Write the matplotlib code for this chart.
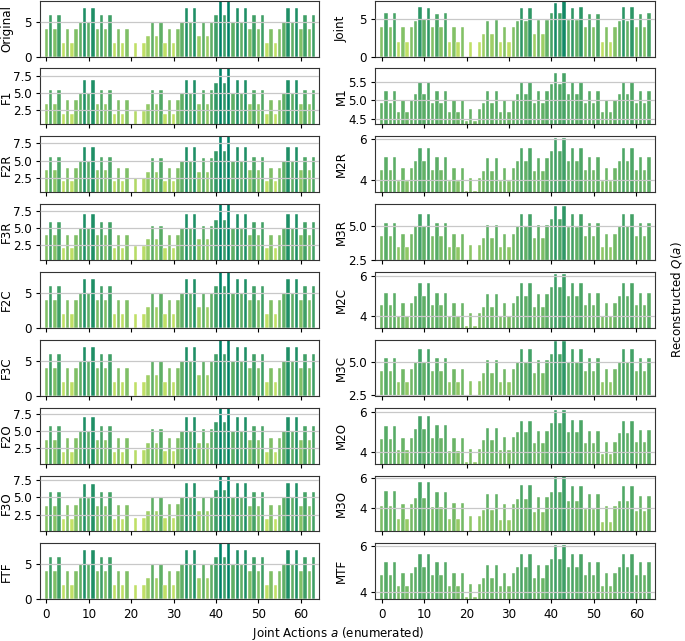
import matplotlib
matplotlib.use("Agg")
import matplotlib.pyplot as plt
import numpy as np
from matplotlib.colors import Normalize

# Reconstructed Q(a) for the 64 enumerated joint actions, one list per panel
original = [
    4, 6, 4, 6, 2, 4, 2, 4, 5, 7, 5, 7, 4, 6, 4, 6,
    2, 4, 2, 4, 0, 2, 0, 2, 3, 5, 3, 5, 2, 4, 2, 4,
    5, 7, 5, 7, 3, 5, 3, 5, 6, 8, 6, 8, 5, 7, 5, 7,
    4, 6, 4, 6, 2, 4, 2, 4, 5, 7, 5, 7, 4, 6, 4, 6,
]
f1 = [
    3.44, 5.45, 3.44, 5.45, 1.96, 4.0, 1.96, 4.0, 5.0, 7.05, 5.0, 7.05, 3.44, 5.45, 3.44, 5.45,
    1.96, 4.0, 1.96, 4.0, 0.37, 2.4, 0.37, 2.4, 3.44, 5.45, 3.44, 5.45, 1.96, 4.0, 1.96, 4.0,
    5.0, 7.05, 5.0, 7.05, 3.44, 5.45, 3.44, 5.45, 6.5, 8.69, 6.5, 8.69, 5.0, 7.05, 5.0, 7.05,
    3.44, 5.45, 3.44, 5.45, 1.96, 4.0, 1.96, 4.0, 5.0, 7.05, 5.0, 7.05, 3.44, 5.45, 3.44, 5.45,
]
f2r = [
    3.62, 5.58, 3.62, 5.58, 2.0, 4.0, 2.0, 4.0, 5.0, 7.0, 5.0, 7.0, 3.62, 5.58, 3.62, 5.58,
    2.0, 4.0, 2.0, 4.0, 0.41, 2.45, 0.41, 2.45, 3.37, 5.4, 3.37, 5.4, 2.0, 4.0, 2.0, 4.0,
    5.0, 7.0, 5.0, 7.0, 3.37, 5.4, 3.37, 5.4, 6.4, 8.52, 6.4, 8.52, 5.0, 7.0, 5.0, 7.0,
    3.62, 5.58, 3.62, 5.58, 2.0, 4.0, 2.0, 4.0, 5.0, 7.0, 5.0, 7.0, 3.62, 5.58, 3.62, 5.58,
]
f3r = [
    3.89, 5.9, 3.89, 5.9, 2.05, 4.0, 2.05, 4.0, 5.0, 7.05, 5.0, 7.05, 3.89, 5.9, 3.89, 5.9,
    2.05, 4.0, 2.05, 4.0, 0.22, 2.25, 0.22, 2.25, 3.3, 5.2, 3.3, 5.2, 2.05, 4.0, 2.05, 4.0,
    5.0, 7.05, 5.0, 7.05, 3.3, 5.2, 3.3, 5.2, 6.2, 8.49, 6.2, 8.49, 5.0, 7.05, 5.0, 7.05,
    3.89, 5.9, 3.89, 5.9, 2.05, 4.0, 2.05, 4.0, 5.0, 7.05, 5.0, 7.05, 3.89, 5.9, 3.89, 5.9,
]
f2c = [
    4, 6, 4, 6, 2, 4, 2, 4, 5, 7, 5, 7, 4, 6, 4, 6,
    2, 4, 2, 4, 0, 2, 0, 2, 3, 5, 3, 5, 2, 4, 2, 4,
    5, 7, 5, 7, 3, 5, 3, 5, 6, 8, 6, 8, 5, 7, 5, 7,
    4, 6, 4, 6, 2, 4, 2, 4, 5, 7, 5, 7, 4, 6, 4, 6,
]
f3c = [
    4, 6, 4, 6, 2, 4, 2, 4, 5, 7, 5, 7, 4, 6, 4, 6,
    2, 4, 2, 4, 0, 2, 0, 2, 3, 5, 3, 5, 2, 4, 2, 4,
    5, 7, 5, 7, 3, 5, 3, 5, 6, 8, 6, 8, 5, 7, 5, 7,
    4, 6, 4, 6, 2, 4, 2, 4, 5, 7, 5, 7, 4, 6, 4, 6,
]
f2o = [
    3.7, 5.72, 3.7, 5.72, 1.97, 3.94, 1.97, 3.94, 5.0, 7.0, 5.0, 7.0, 3.7, 5.72, 3.7, 5.72,
    2.0, 4.0, 2.0, 4.0, 0.29, 2.26, 0.29, 2.26, 3.27, 5.24, 3.27, 5.24, 2.05, 4.0, 2.05, 4.0,
    5.0, 7.0, 5.0, 7.0, 3.27, 5.24, 3.27, 5.24, 6.25, 8.37, 6.25, 8.37, 5.0, 7.0, 5.0, 7.0,
    3.7, 5.72, 3.7, 5.72, 2.0, 4.0, 2.0, 4.0, 5.0, 7.0, 5.0, 7.0, 3.7, 5.72, 3.7, 5.72,
]
f3o = [
    3.8, 5.84, 3.8, 5.84, 1.85, 3.85, 1.85, 3.85, 4.9, 6.9, 4.9, 6.9, 3.8, 5.84, 3.8, 5.84,
    1.95, 3.95, 1.95, 3.95, 0.1, 2.0, 0.1, 2.0, 3.0, 5.0, 3.0, 5.0, 2.0, 4.0, 2.0, 4.0,
    5.0, 7.0, 5.0, 7.0, 3.0, 5.0, 3.0, 5.0, 6.05, 8.14, 6.05, 8.14, 5.0, 7.0, 5.0, 7.0,
    3.8, 5.84, 3.8, 5.84, 1.95, 3.95, 1.95, 3.95, 5.0, 7.0, 5.0, 7.0, 3.8, 5.84, 3.8, 5.84,
]
ftf = [
    4, 6, 4, 6, 2, 4, 2, 4, 5, 7, 5, 7, 4, 6, 4, 6,
    2, 4, 2, 4, 0, 2, 0, 2, 3, 5, 3, 5, 2, 4, 2, 4,
    5, 7, 5, 7, 3, 5, 3, 5, 6, 8, 6, 8, 5, 7, 5, 7,
    4, 6, 4, 6, 2, 4, 2, 4, 5, 7, 5, 7, 4, 6, 4, 6,
]

joint = [
    3.9, 5.8, 3.9, 5.8, 2.0, 3.9, 2.0, 3.9, 4.8, 6.6, 5.0, 6.5, 3.9, 5.7, 3.9, 5.8,
    2.0, 3.9, 2.0, 3.9, 0.0, 2.0, 0.0, 2.0, 3.0, 4.8, 3.0, 4.9, 2.0, 3.9, 2.0, 3.9,
    4.8, 6.5, 4.8, 6.5, 3.0, 4.9, 3.0, 4.9, 5.8, 7.2, 5.8, 7.45, 4.9, 6.5, 4.9, 6.6,
    3.9, 5.7, 3.9, 5.7, 2.0, 3.9, 2.0, 3.9, 4.8, 6.6, 4.8, 6.6, 3.9, 5.7, 3.9, 5.8,
]
m1 = [
    4.92, 5.25, 4.92, 5.25, 4.68, 5.0, 4.68, 5.0, 5.17, 5.5, 5.17, 5.5, 4.92, 5.25, 4.92, 5.25,
    4.68, 5.0, 4.68, 5.0, 4.43, 4.75, 4.43, 4.75, 4.92, 5.25, 4.92, 5.25, 4.68, 5.0, 4.68, 5.0,
    5.17, 5.5, 5.17, 5.5, 4.92, 5.25, 4.92, 5.25, 5.43, 5.75, 5.43, 5.75, 5.17, 5.5, 5.17, 5.5,
    4.92, 5.25, 4.92, 5.25, 4.68, 5.0, 4.68, 5.0, 5.17, 5.5, 5.17, 5.5, 4.92, 5.25, 4.92, 5.25,
]
m2r = [
    4.48, 5.13, 4.48, 5.13, 3.95, 4.6, 3.95, 4.6, 4.93, 5.57, 4.93, 5.57, 4.48, 5.13, 4.48, 5.13,
    3.95, 4.6, 3.95, 4.6, 3.46, 4.11, 3.46, 4.11, 4.43, 5.07, 4.43, 5.07, 3.95, 4.6, 3.95, 4.6,
    4.93, 5.57, 4.93, 5.57, 4.41, 5.07, 4.41, 5.07, 5.39, 6.03, 5.39, 6.03, 4.93, 5.57, 4.93, 5.57,
    4.48, 5.13, 4.48, 5.13, 3.95, 4.6, 3.95, 4.6, 4.93, 5.57, 4.93, 5.57, 4.48, 5.13, 4.48, 5.13,
]
m3r = [
    4.25, 5.22, 4.25, 5.22, 3.47, 4.42, 3.47, 4.42, 4.98, 5.9, 4.98, 5.9, 4.25, 5.22, 4.25, 5.22,
    3.47, 4.42, 3.47, 4.42, 2.5, 3.57, 2.5, 3.57, 4.1, 5.1, 4.1, 5.1, 3.47, 4.42, 3.47, 4.42,
    4.98, 5.9, 4.98, 5.9, 4.08, 5.07, 4.08, 5.07, 5.56, 6.53, 5.56, 6.53, 4.95, 5.9, 4.95, 5.9,
    4.25, 5.22, 4.25, 5.22, 3.47, 4.42, 3.47, 4.42, 4.98, 5.9, 4.98, 5.9, 4.25, 5.22, 4.25, 5.22,
]
m2c = [
    4.55, 5.18, 4.55, 5.18, 4.0, 4.67, 4.0, 4.67, 5.0, 5.65, 5.0, 5.65, 4.55, 5.18, 4.55, 5.18,
    4.0, 4.67, 4.0, 4.67, 3.5, 4.15, 3.5, 4.15, 4.47, 5.13, 4.47, 5.13, 4.0, 4.67, 4.0, 4.67,
    5.0, 5.65, 5.0, 5.65, 4.47, 5.13, 4.47, 5.13, 5.45, 6.12, 5.45, 6.12, 5.0, 5.65, 5.0, 5.65,
    4.55, 5.18, 4.55, 5.18, 4.0, 4.67, 4.0, 4.67, 5.0, 5.65, 5.0, 5.65, 4.55, 5.18, 4.55, 5.18,
]
m3c = [
    4.3, 5.27, 4.3, 5.27, 3.47, 4.44, 3.47, 4.44, 4.98, 5.92, 4.98, 5.92, 4.3, 5.27, 4.3, 5.27,
    3.47, 4.44, 3.47, 4.44, 2.5, 3.6, 2.5, 3.6, 4.17, 5.12, 4.17, 5.12, 3.47, 4.44, 3.47, 4.44,
    4.98, 5.92, 4.98, 5.92, 4.17, 5.12, 4.17, 5.12, 5.6, 6.58, 5.6, 6.58, 4.98, 5.92, 4.98, 5.92,
    4.3, 5.27, 4.3, 5.27, 3.47, 4.44, 3.47, 4.44, 4.98, 5.92, 4.98, 5.92, 4.3, 5.27, 4.3, 5.27,
]
m2o = [
    4.65, 5.28, 4.65, 5.28, 4.1, 4.72, 4.1, 4.72, 5.17, 5.82, 5.17, 5.82, 4.68, 5.33, 4.68, 5.33,
    4.05, 4.68, 4.05, 4.68, 3.5, 4.13, 3.5, 4.13, 4.58, 5.22, 4.58, 5.22, 4.1, 4.73, 4.1, 4.73,
    4.98, 5.58, 4.98, 5.58, 4.42, 5.05, 4.42, 5.05, 5.48, 6.12, 5.48, 6.12, 5.0, 5.63, 5.0, 5.63,
    4.43, 5.07, 4.43, 5.07, 3.87, 4.5, 3.87, 4.5, 4.95, 5.58, 4.95, 5.58, 4.48, 5.1, 4.48, 5.1,
]
m3o = [
    4.1, 5.16, 4.1, 5.16, 3.26, 4.3, 3.26, 4.3, 4.7, 5.74, 4.7, 5.74, 4.05, 5.1, 4.05, 5.1,
    3.28, 4.32, 3.28, 4.32, 2.42, 3.44, 2.42, 3.44, 3.88, 4.93, 3.88, 4.93, 3.2, 4.25, 3.2, 4.25,
    4.58, 5.58, 4.58, 5.58, 3.74, 4.77, 3.74, 4.77, 5.1, 6.14, 5.1, 6.14, 4.49, 5.49, 4.49, 5.49,
    3.91, 4.93, 3.91, 4.93, 3.07, 4.1, 3.07, 4.1, 4.44, 5.49, 4.44, 5.49, 3.79, 4.81, 3.79, 4.81,
]
mtf = [
    4.76, 5.32, 4.76, 5.32, 4.27, 4.83, 4.27, 4.83, 5.11, 5.68, 5.11, 5.68, 4.76, 5.32, 4.76, 5.32,
    4.27, 4.83, 4.27, 4.83, 3.78, 4.35, 3.78, 4.35, 4.62, 5.19, 4.62, 5.19, 4.27, 4.83, 4.27, 4.83,
    5.11, 5.68, 5.11, 5.68, 4.62, 5.19, 4.62, 5.19, 5.45, 6.03, 5.45, 6.03, 5.11, 5.68, 5.11, 5.68,
    4.76, 5.32, 4.76, 5.32, 4.27, 4.83, 4.27, 4.83, 5.11, 5.68, 5.11, 5.68, 4.76, 5.32, 4.76, 5.32,
]

left_names = ["Original", "F1", "F2R", "F3R", "F2C", "F3C", "F2O", "F3O", "FTF"]
left_values = [original, f1, f2r, f3r, f2c, f3c, f2o, f3o, ftf]
right_names = ["Joint", "M1", "M2R", "M3R", "M2C", "M3C", "M2O", "M3O", "MTF"]
right_values = [joint, m1, m2r, m3r, m2c, m3c, m2o, m3o, mtf]

left_ylims = [(0, 8), (0.37, 8.69), (0.41, 8.52), (0.22, 8.49), (0, 8),
              (0, 8), (0.29, 8.37), (0.1, 8.14), (0, 8)]
right_ylims = [(0, 7.45), (4.34, 5.86), (3.39, 6.13), (2.47, 6.63), (3.42, 6.2),
               (2.47, 6.63), (3.4, 6.23), (2.4, 6.2), (3.7, 6.12)]
left_yticks = [[0, 5], [2.5, 5.0, 7.5], [2.5, 5.0, 7.5], [2.5, 5.0, 7.5], [0, 5],
               [0, 5], [2.5, 5.0, 7.5], [2.5, 5.0, 7.5], [0, 5]]
right_yticks = [[0, 5], [4.5, 5.0, 5.5], [4, 6], [2.5, 5.0], [4, 6],
                [2.5, 5.0], [4, 6], [4, 6], [4, 6]]
xticks = [0, 10, 20, 30, 40, 50, 60]

plt.rcParams["font.size"] = 8.6
plt.rcParams["xtick.major.size"] = 3.0
plt.rcParams["ytick.major.size"] = 3.0
plt.rcParams["xtick.major.pad"] = 3.0
plt.rcParams["ytick.major.pad"] = 3.0


def draw_panel(ax, name, values, ylim, yticks, norm, cmap, label_x):
    x = np.arange(len(values))
    values = np.asarray(values, dtype=float)
    ax.bar(x, values, width=0.8, color=cmap(norm(values)),
           edgecolor="white", linewidth=0.3, zorder=1)
    ax.set_xlim(-1.5, 64.4)
    ax.set_ylim(*ylim)
    ax.set_yticks(yticks)
    ax.set_xticks(xticks)
    ax.yaxis.grid(True, color="#c8c8c8", linewidth=0.9, zorder=2)
    ax.set_axisbelow(False)
    ax.set_ylabel(name)
    ax.yaxis.set_label_coords(label_x, 0.5)
    for s in ax.spines.values():
        s.set_color("#333333")


def main():
    cmap = plt.cm.summer_r
    norm = Normalize(vmin=0, vmax=8)

    fig, axes = plt.subplots(9, 2, figsize=(6.85, 6.41), dpi=100)
    fig.subplots_adjust(left=0.0584, right=0.956, top=0.999, bottom=0.065,
                        hspace=0.2116, wspace=0.2)

    for i in range(9):
        draw_panel(axes[i, 0], left_names[i], left_values[i], left_ylims[i],
                   left_yticks[i], norm, cmap, -0.097)
        draw_panel(axes[i, 1], right_names[i], right_values[i], right_ylims[i],
                   right_yticks[i], norm, cmap, -0.1)
        if i < 8:
            axes[i, 0].tick_params(labelbottom=False)
            axes[i, 1].tick_params(labelbottom=False)

    fig.text(0.493, 0.012, "Joint Actions $a$ (enumerated)", ha="center", va="center")
    fig.text(0.988, 0.532, "Reconstructed $Q(a)$", ha="center", va="center",
             rotation=90)

    fig.savefig("out.png", dpi=100)


if __name__ == "__main__":
    main()
